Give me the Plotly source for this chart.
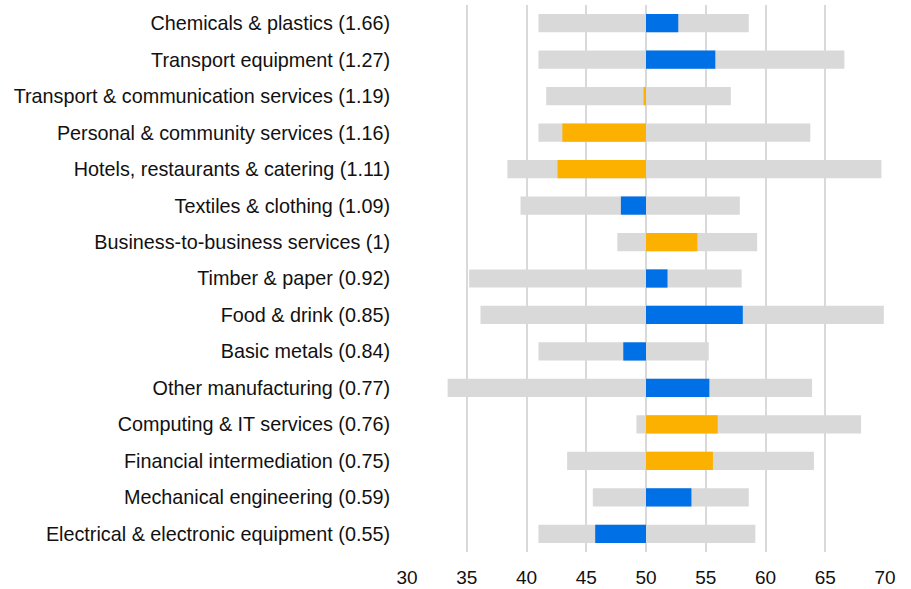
import plotly.graph_objects as go

categories = [
    "Chemicals & plastics (1.66)",
    "Transport equipment (1.27)",
    "Transport & communication services (1.19)",
    "Personal & community services (1.16)",
    "Hotels, restaurants & catering (1.11)",
    "Textiles & clothing (1.09)",
    "Business-to-business services (1)",
    "Timber & paper (0.92)",
    "Food & drink (0.85)",
    "Basic metals (0.84)",
    "Other manufacturing (0.77)",
    "Computing & IT services (0.76)",
    "Financial intermediation (0.75)",
    "Mechanical engineering (0.59)",
    "Electrical & electronic equipment (0.55)",
]
range_min = [41.0, 41.0, 41.65, 41.0, 38.4, 39.5, 47.6, 35.2, 36.15, 41.0, 33.4, 49.2, 43.4, 45.55, 41.0]
range_max = [58.6, 66.6, 57.1, 63.75, 69.7, 57.85, 59.3, 58.0, 69.9, 55.25, 63.9, 68.0, 64.05, 58.6, 59.15]
value = [52.7, 55.8, 49.8, 43.0, 42.6, 47.9, 54.3, 51.8, 58.1, 48.1, 55.3, 56.0, 55.6, 53.8, 45.75]
sector_type = ["manufacturing", "manufacturing", "services", "services", "services",
               "manufacturing", "services", "manufacturing", "manufacturing", "manufacturing",
               "manufacturing", "services", "services", "manufacturing", "manufacturing"]
midpoint = 50
x_ticks = [30, 35, 40, 45, 50, 55, 60, 65, 70]

type_colors = {"manufacturing": "#0070E6", "services": "#FCB100"}

fig = go.Figure()
fig.add_trace(go.Bar(
    y=categories, x=[b - a for a, b in zip(range_min, range_max)], base=range_min,
    orientation="h", marker=dict(color="#D9D9D9", line=dict(width=0)),
    width=0.5, hoverinfo="skip", showlegend=False,
))
fig.add_trace(go.Bar(
    y=categories, x=[v - midpoint for v in value], base=[midpoint] * len(value),
    orientation="h", marker=dict(color=[type_colors[t] for t in sector_type], line=dict(width=0)),
    width=0.5, showlegend=False,
))

fig.update_layout(
    barmode="overlay",
    width=911, height=589,
    margin=dict(l=407, r=26, t=5, b=37, autoexpand=False),
    plot_bgcolor="white", paper_bgcolor="white",
    font=dict(family="Liberation Sans, Arial, sans-serif", size=19.8, color="#111111"),
    xaxis=dict(range=[30, 70], tickvals=x_ticks, showgrid=True, gridcolor="#D9D9D9",
               gridwidth=2, zeroline=False, showline=False, tickfont=dict(size=19),
               ticks="outside", ticklen=8, tickcolor="rgba(0,0,0,0)"),
    yaxis=dict(categoryorder="array", categoryarray=categories[::-1], autorange=False,
               range=[-0.5, len(categories) - 0.5], showgrid=False, zeroline=False,
               ticks="outside", ticklen=12, tickcolor="rgba(0,0,0,0)"),
)

fig.write_html("out.html", config={"displayModeBar": False},
               post_script="document.body.style.margin='0';")
